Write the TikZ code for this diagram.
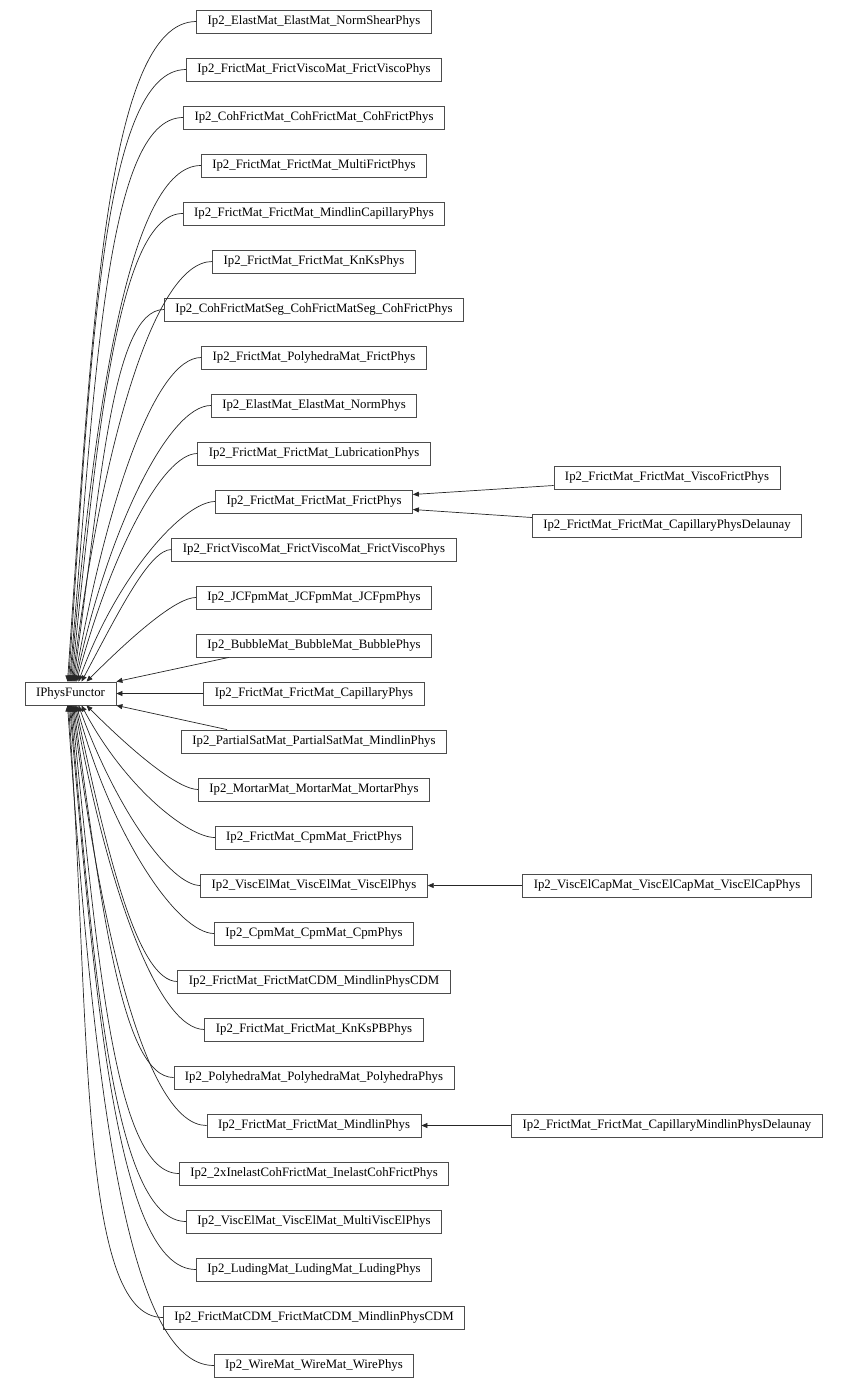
\documentclass[tikz,border=0pt]{standalone}
\usepackage{fontspec}
\setmainfont{Liberation Serif}
\usepackage{tikz}
\usetikzlibrary{arrows.meta,positioning}

\begin{document}
\begin{tikzpicture}[
  node distance=24.2pt,
  cls/.style={draw=black!70, line width=0.8pt, inner xsep=11pt, minimum height=23pt, text height=8.8pt, text depth=2.6pt, font=\fontsize{12.8}{14}\selectfont},
  inh/.style={draw=black!85, line width=0.7pt, -{Triangle[length=6pt,width=5pt]}},
  curveup/.style={out=180, in=#1, out looseness=0.35, in looseness=1.3},
  curvedown/.style={out=180, in=-#1, out looseness=0.35, in looseness=1.3}
]
\useasboundingbox (0,0) rectangle (846pt,-1388pt);

% middle column, one row every 48pt
\node[cls] (ens) at (314pt,-21.5pt) {Ip2\_ElastMat\_ElastMat\_NormShearPhys};
\node[cls, below=of ens] (ffv) {Ip2\_FrictMat\_FrictViscoMat\_FrictViscoPhys};
\node[cls, below=of ffv] (ccc) {Ip2\_CohFrictMat\_CohFrictMat\_CohFrictPhys};
\node[cls, below=of ccc] (fmf) {Ip2\_FrictMat\_FrictMat\_MultiFrictPhys};
\node[cls, below=of fmf] (fmc) {Ip2\_FrictMat\_FrictMat\_MindlinCapillaryPhys};
\node[cls, below=of fmc] (fkk) {Ip2\_FrictMat\_FrictMat\_KnKsPhys};
\node[cls, below=of fkk] (csg) {Ip2\_CohFrictMatSeg\_CohFrictMatSeg\_CohFrictPhys};
\node[cls, below=of csg] (fpf) {Ip2\_FrictMat\_PolyhedraMat\_FrictPhys};
\node[cls, below=of fpf] (enp) {Ip2\_ElastMat\_ElastMat\_NormPhys};
\node[cls, below=of enp] (flb) {Ip2\_FrictMat\_FrictMat\_LubricationPhys};
\node[cls, below=of flb] (ffp) {Ip2\_FrictMat\_FrictMat\_FrictPhys};
\node[cls, below=of ffp] (vvv) {Ip2\_FrictViscoMat\_FrictViscoMat\_FrictViscoPhys};
\node[cls, below=of vvv] (jcf) {Ip2\_JCFpmMat\_JCFpmMat\_JCFpmPhys};
\node[cls, below=of jcf] (bub) {Ip2\_BubbleMat\_BubbleMat\_BubblePhys};
\node[cls, below=of bub] (cap) {Ip2\_FrictMat\_FrictMat\_CapillaryPhys};
\node[cls, below=of cap] (psm) {Ip2\_PartialSatMat\_PartialSatMat\_MindlinPhys};
\node[cls, below=of psm] (mor) {Ip2\_MortarMat\_MortarMat\_MortarPhys};
\node[cls, below=of mor] (fcp) {Ip2\_FrictMat\_CpmMat\_FrictPhys};
\node[cls, below=of fcp] (vel) {Ip2\_ViscElMat\_ViscElMat\_ViscElPhys};
\node[cls, below=of vel] (cpm) {Ip2\_CpmMat\_CpmMat\_CpmPhys};
\node[cls, below=of cpm] (fcd) {Ip2\_FrictMat\_FrictMatCDM\_MindlinPhysCDM};
\node[cls, below=of fcd] (kpb) {Ip2\_FrictMat\_FrictMat\_KnKsPBPhys};
\node[cls, below=of kpb] (pol) {Ip2\_PolyhedraMat\_PolyhedraMat\_PolyhedraPhys};
\node[cls, below=of pol] (fmp) {Ip2\_FrictMat\_FrictMat\_MindlinPhys};
\node[cls, below=of fmp] (inl) {Ip2\_2xInelastCohFrictMat\_InelastCohFrictPhys};
\node[cls, below=of inl] (mve) {Ip2\_ViscElMat\_ViscElMat\_MultiViscElPhys};
\node[cls, below=of mve] (lud) {Ip2\_LudingMat\_LudingMat\_LudingPhys};
\node[cls, below=of lud] (cdm) {Ip2\_FrictMatCDM\_FrictMatCDM\_MindlinPhysCDM};
\node[cls, below=of cdm] (wir) {Ip2\_WireMat\_WireMat\_WirePhys};

% base class
\node[cls] (ip) at (70.5pt,-693.5pt) {IPhysFunctor};

% right column
\node[cls] (vfr) at ([shift={(353pt,24pt)}]ffp) {Ip2\_FrictMat\_FrictMat\_ViscoFrictPhys};
\node[cls] (cpd) at ([shift={(353pt,-24pt)}]ffp) {Ip2\_FrictMat\_FrictMat\_CapillaryPhysDelaunay};
\node[cls] (vec) at ([xshift=353pt]vel) {Ip2\_ViscElCapMat\_ViscElCapMat\_ViscElCapPhys};
\node[cls] (cmd) at ([xshift=353pt]fmp) {Ip2\_FrictMat\_FrictMat\_CapillaryMindlinPhysDelaunay};

% inheritance from above
\draw[inh] (ens.west) to[curveup=86] ([xshift=-3pt]ip.north);
\draw[inh] (ffv.west) to[curveup=86] ([xshift=-2pt]ip.north);
\draw[inh] (ccc.west) to[curveup=85] ([xshift=-1pt]ip.north);
\draw[inh] (fmf.west) to[curveup=85] (ip.north);
\draw[inh] (fmc.west) to[curveup=84] ([xshift=1pt]ip.north);
\draw[inh] (fkk.west) to[curveup=83] ([xshift=2pt]ip.north);
\draw[inh] (csg.west) to[curveup=82] ([xshift=3pt]ip.north);
\draw[inh] (fpf.west) to[curveup=80] ([xshift=4pt]ip.north);
\draw[inh] (enp.west) to[curveup=78] ([xshift=5pt]ip.north);
\draw[inh] (flb.west) to[curveup=75] ([xshift=6pt]ip.north);
\draw[inh] (ffp.west) to[curveup=70] ([xshift=8pt]ip.north);
\draw[inh] (vvv.west) to[curveup=62] ([xshift=11pt]ip.north);
\draw[inh] (jcf.west) to[curveup=45] ([xshift=16pt]ip.north);
\draw[inh] ([xshift=33pt]bub.south west) -- (ip.north east);
\draw[inh] (cap.west) -- (ip.east);
\draw[inh] ([xshift=46pt]psm.north west) -- (ip.south east);

% inheritance from below
\draw[inh] (mor.west) to[curvedown=45] ([xshift=16pt]ip.south);
\draw[inh] (fcp.west) to[curvedown=62] ([xshift=11pt]ip.south);
\draw[inh] (vel.west) to[curvedown=70] ([xshift=8pt]ip.south);
\draw[inh] (cpm.west) to[curvedown=75] ([xshift=6pt]ip.south);
\draw[inh] (fcd.west) to[curvedown=78] ([xshift=5pt]ip.south);
\draw[inh] (kpb.west) to[curvedown=80] ([xshift=4pt]ip.south);
\draw[inh] (pol.west) to[curvedown=82] ([xshift=3pt]ip.south);
\draw[inh] (fmp.west) to[curvedown=83] ([xshift=2pt]ip.south);
\draw[inh] (inl.west) to[curvedown=84] ([xshift=1pt]ip.south);
\draw[inh] (mve.west) to[curvedown=85] (ip.south);
\draw[inh] (lud.west) to[curvedown=85] ([xshift=-1pt]ip.south);
\draw[inh] (cdm.west) to[curvedown=86] ([xshift=-2pt]ip.south);
\draw[inh] (wir.west) to[curvedown=86] ([xshift=-3pt]ip.south);

% second level
\draw[inh] ([yshift=-8pt]vfr.west) -- ([yshift=7pt]ffp.east);
\draw[inh] ([yshift=8pt]cpd.west) -- ([yshift=-8pt]ffp.east);
\draw[inh] (vec) -- (vel);
\draw[inh] (cmd) -- (fmp);
\end{tikzpicture}
\end{document}
